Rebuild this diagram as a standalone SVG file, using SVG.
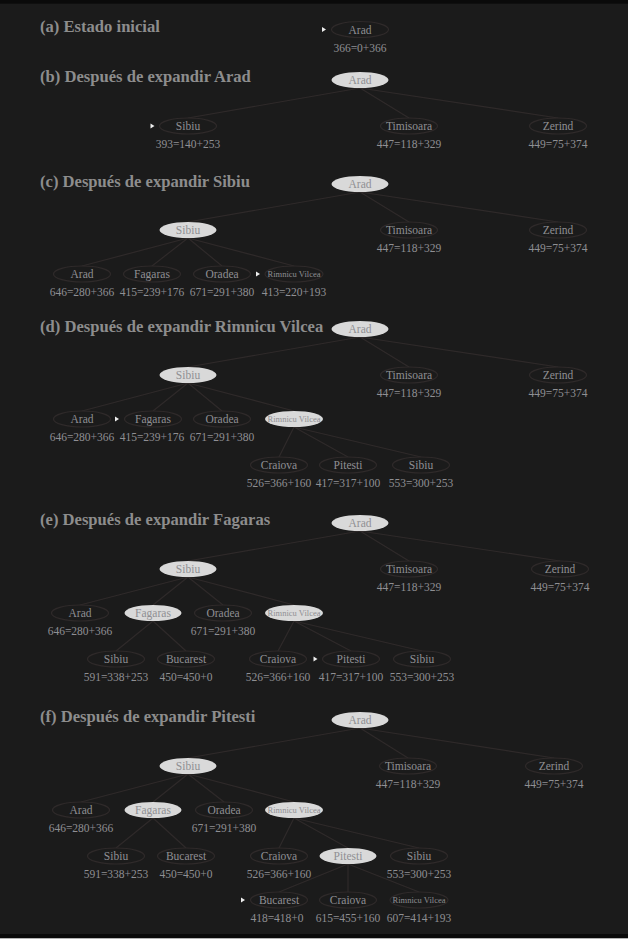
<svg xmlns="http://www.w3.org/2000/svg" width="628" height="939" viewBox="0 0 628 939">
<style>
.t{font-family:"Liberation Serif","Times New Roman",serif;font-weight:bold;font-size:16.6px;fill:#8d8d8d}
.n{font-family:"Liberation Serif","Times New Roman",serif;font-size:11.5px;fill:#8f8f93;text-anchor:middle}
.s{font-family:"Liberation Serif","Times New Roman",serif;font-size:8.5px;fill:#8f8f93;text-anchor:middle}
.o{fill:#1b1b1b;stroke:#2f2a2a;stroke-width:1.2}
.x{fill:#d9d9d9;stroke:none}
.e{stroke:#2f2a2a;stroke-width:1.2;fill:none}
.a{fill:#eeeeee}
</style>
<rect x="0" y="0" width="628" height="939" fill="#1b1b1b"/>
<rect x="0" y="0" width="628" height="3.7" fill="#0a0a0a"/>
<rect x="0" y="934" width="628" height="4" fill="#0a0a0a"/>
<rect x="0" y="938" width="628" height="1" fill="#b4b4b4"/>

<text class="t" x="40" y="32">(a) Estado inicial</text>
<text class="t" x="40" y="82">(b) Después de expandir Arad</text>
<text class="t" x="40" y="187">(c) Después de expandir Sibiu</text>
<text class="t" x="40" y="332">(d) Después de expandir Rimnicu Vilcea</text>
<text class="t" x="40" y="525">(e) Después de expandir Fagaras</text>
<text class="t" x="40" y="722">(f) Después de expandir Pitesti</text>

<!-- Panel a -->
<g id="panel-a" transform="translate(0,29.5)">
  <g id="a-arad"><polygon class="a" points="322,-2.5 326,0 322,2.5"/><ellipse class="o" cx="360" cy="0" rx="28.5" ry="8"/><text class="n" x="360" y="4">Arad</text><text class="n" x="360" y="22">366=0+366</text></g>
</g>

<!-- Panel b -->
<g id="panel-b" transform="translate(0,80)">
  <g id="b-edges">
    <path class="e" d="M360,8L188,38M360,8L409,38M360,8L558,38"/>
  </g>
  <g id="b-arad"><ellipse class="x" cx="360" cy="0" rx="28.5" ry="8"/><text class="n" x="360" y="4">Arad</text></g>
  <g id="b-sibiu"><polygon class="a" points="150.5,43.5 154.5,46 150.5,48.5"/><ellipse class="o" cx="188" cy="46" rx="28.5" ry="8"/><text class="n" x="188" y="50">Sibiu</text><text class="n" x="188" y="67.5">393=140+253</text></g>
  <g id="b-timisoara"><ellipse class="o" cx="409" cy="46" rx="28.5" ry="8"/><text class="n" x="409" y="50">Timisoara</text><text class="n" x="409" y="67.5">447=118+329</text></g>
  <g id="b-zerind"><ellipse class="o" cx="558" cy="46" rx="28.5" ry="8"/><text class="n" x="558" y="50">Zerind</text><text class="n" x="558" y="67.5">449=75+374</text></g>
</g>

<!-- Panel c -->
<g id="panel-c" transform="translate(0,184)">
  <g id="c-edges">
    <path class="e" d="M360,8L188,38M360,8L409,38M360,8L558,38M188,54L82,82M188,54L152,82M188,54L222,82M188,54L294,82"/>
  </g>
  <g id="c-arad"><ellipse class="x" cx="360" cy="0" rx="28.5" ry="8"/><text class="n" x="360" y="4">Arad</text></g>
  <g id="c-sibiu"><ellipse class="x" cx="188" cy="46" rx="28.5" ry="8"/><text class="n" x="188" y="50">Sibiu</text></g>
  <g id="c-timisoara"><ellipse class="o" cx="409" cy="46" rx="28.5" ry="8"/><text class="n" x="409" y="50">Timisoara</text><text class="n" x="409" y="67.5">447=118+329</text></g>
  <g id="c-zerind"><ellipse class="o" cx="558" cy="46" rx="28.5" ry="8"/><text class="n" x="558" y="50">Zerind</text><text class="n" x="558" y="67.5">449=75+374</text></g>
  <g id="c-arad2"><ellipse class="o" cx="82" cy="90" rx="28.5" ry="8"/><text class="n" x="82" y="94">Arad</text><text class="n" x="82" y="111.5">646=280+366</text></g>
  <g id="c-fagaras"><ellipse class="o" cx="152" cy="90" rx="28.5" ry="8"/><text class="n" x="152" y="94">Fagaras</text><text class="n" x="152" y="111.5">415=239+176</text></g>
  <g id="c-oradea"><ellipse class="o" cx="222" cy="90" rx="28.5" ry="8"/><text class="n" x="222" y="94">Oradea</text><text class="n" x="222" y="111.5">671=291+380</text></g>
  <g id="c-rimnicu"><polygon class="a" points="256,87.5 260,90 256,92.5"/><ellipse class="o" cx="294" cy="90" rx="29" ry="8"/><text class="s" x="294" y="93">Rimnicu Vilcea</text><text class="n" x="294" y="111.5">413=220+193</text></g>
</g>

<!-- Panel d -->
<g id="panel-d" transform="translate(0,329)">
  <g id="d-edges">
    <path class="e" d="M360,8L188,38M360,8L409,38M360,8L558,38M188,54L82,82M188,54L153,82M188,54L222,82M188,54L294,82M294,98L279,128M294,98L348,128M294,98L421,128"/>
  </g>
  <g id="d-arad"><ellipse class="x" cx="360" cy="0" rx="28.5" ry="8"/><text class="n" x="360" y="4">Arad</text></g>
  <g id="d-sibiu"><ellipse class="x" cx="188" cy="46" rx="28.5" ry="8"/><text class="n" x="188" y="50">Sibiu</text></g>
  <g id="d-timisoara"><ellipse class="o" cx="409" cy="46" rx="28.5" ry="8"/><text class="n" x="409" y="50">Timisoara</text><text class="n" x="409" y="67.5">447=118+329</text></g>
  <g id="d-zerind"><ellipse class="o" cx="558" cy="46" rx="28.5" ry="8"/><text class="n" x="558" y="50">Zerind</text><text class="n" x="558" y="67.5">449=75+374</text></g>
  <g id="d-arad2"><ellipse class="o" cx="82" cy="90" rx="28.5" ry="8"/><text class="n" x="82" y="94">Arad</text><text class="n" x="82" y="111.5">646=280+366</text></g>
  <g id="d-fagaras"><polygon class="a" points="115,87.5 119,90 115,92.5"/><ellipse class="o" cx="153" cy="90" rx="28.5" ry="8"/><text class="n" x="153" y="94">Fagaras</text><text class="n" x="152" y="111.5">415=239+176</text></g>
  <g id="d-oradea"><ellipse class="o" cx="222" cy="90" rx="28.5" ry="8"/><text class="n" x="222" y="94">Oradea</text><text class="n" x="222" y="111.5">671=291+380</text></g>
  <g id="d-rimnicu"><ellipse class="x" cx="294" cy="90" rx="29" ry="8"/><text class="s" x="294" y="93">Rimnicu Vilcea</text></g>
  <g id="d-craiova"><ellipse class="o" cx="279" cy="136" rx="28.5" ry="8"/><text class="n" x="279" y="140">Craiova</text><text class="n" x="279" y="157.5">526=366+160</text></g>
  <g id="d-pitesti"><ellipse class="o" cx="348" cy="136" rx="28.5" ry="8"/><text class="n" x="348" y="140">Pitesti</text><text class="n" x="348" y="157.5">417=317+100</text></g>
  <g id="d-sibiu3"><ellipse class="o" cx="421" cy="136" rx="28.5" ry="8"/><text class="n" x="421" y="140">Sibiu</text><text class="n" x="421" y="157.5">553=300+253</text></g>
</g>

<!-- Panel e -->
<g id="panel-e" transform="translate(0,523)">
  <g id="e-edges">
    <path class="e" d="M360,8L188,38M360,8L409,38M360,8L560,38M188,54L80,82M188,54L153,82M188,54L223,82M188,54L294,82M153,98L116,128M153,98L186,128M294,98L278,128M294,98L351,128M294,98L422,128"/>
  </g>
  <g id="e-arad"><ellipse class="x" cx="360" cy="0" rx="28.5" ry="8"/><text class="n" x="360" y="4">Arad</text></g>
  <g id="e-sibiu"><ellipse class="x" cx="188" cy="46" rx="28.5" ry="8"/><text class="n" x="188" y="50">Sibiu</text></g>
  <g id="e-timisoara"><ellipse class="o" cx="409" cy="46" rx="28.5" ry="8"/><text class="n" x="409" y="50">Timisoara</text><text class="n" x="409" y="67.5">447=118+329</text></g>
  <g id="e-zerind"><ellipse class="o" cx="560" cy="46" rx="28.5" ry="8"/><text class="n" x="560" y="50">Zerind</text><text class="n" x="560" y="67.5">449=75+374</text></g>
  <g id="e-arad2"><ellipse class="o" cx="80" cy="90" rx="28.5" ry="8"/><text class="n" x="80" y="94">Arad</text><text class="n" x="80" y="111.5">646=280+366</text></g>
  <g id="e-fagaras"><ellipse class="x" cx="153" cy="90" rx="28.5" ry="8"/><text class="n" x="153" y="94">Fagaras</text></g>
  <g id="e-oradea"><ellipse class="o" cx="223" cy="90" rx="28.5" ry="8"/><text class="n" x="223" y="94">Oradea</text><text class="n" x="223" y="111.5">671=291+380</text></g>
  <g id="e-rimnicu"><ellipse class="x" cx="294" cy="90" rx="29" ry="8"/><text class="s" x="294" y="93">Rimnicu Vilcea</text></g>
  <g id="e-sibiu3a"><ellipse class="o" cx="116" cy="136" rx="28.5" ry="8"/><text class="n" x="116" y="140">Sibiu</text><text class="n" x="116" y="157.5">591=338+253</text></g>
  <g id="e-bucarest"><ellipse class="o" cx="186" cy="136" rx="28.5" ry="8"/><text class="n" x="186" y="140">Bucarest</text><text class="n" x="186" y="157.5">450=450+0</text></g>
  <g id="e-craiova"><ellipse class="o" cx="278" cy="136" rx="28.5" ry="8"/><text class="n" x="278" y="140">Craiova</text><text class="n" x="278" y="157.5">526=366+160</text></g>
  <g id="e-pitesti"><polygon class="a" points="313.5,133.5 317.5,136 313.5,138.5"/><ellipse class="o" cx="351" cy="136" rx="28.5" ry="8"/><text class="n" x="351" y="140">Pitesti</text><text class="n" x="351" y="157.5">417=317+100</text></g>
  <g id="e-sibiu3b"><ellipse class="o" cx="422" cy="136" rx="28.5" ry="8"/><text class="n" x="422" y="140">Sibiu</text><text class="n" x="422" y="157.5">553=300+253</text></g>
</g>

<!-- Panel f -->
<g id="panel-f" transform="translate(0,720)">
  <g id="f-edges">
    <path class="e" d="M360,8L188,38M360,8L408,38M360,8L554,38M188,54L81,82M188,54L153,82M188,54L224,82M188,54L294,82M153,98L116,128M153,98L186,128M294,98L279,128M294,98L348,128M294,98L419,128M348,144L279,172M348,144L348,172M348,144L419,172"/>
  </g>
  <g id="f-arad"><ellipse class="x" cx="360" cy="0" rx="28.5" ry="8"/><text class="n" x="360" y="4">Arad</text></g>
  <g id="f-sibiu"><ellipse class="x" cx="188" cy="46" rx="28.5" ry="8"/><text class="n" x="188" y="50">Sibiu</text></g>
  <g id="f-timisoara"><ellipse class="o" cx="408" cy="46" rx="28.5" ry="8"/><text class="n" x="408" y="50">Timisoara</text><text class="n" x="408" y="67.5">447=118+329</text></g>
  <g id="f-zerind"><ellipse class="o" cx="554" cy="46" rx="28.5" ry="8"/><text class="n" x="554" y="50">Zerind</text><text class="n" x="554" y="67.5">449=75+374</text></g>
  <g id="f-arad2"><ellipse class="o" cx="81" cy="90" rx="28.5" ry="8"/><text class="n" x="81" y="94">Arad</text><text class="n" x="81" y="111.5">646=280+366</text></g>
  <g id="f-fagaras"><ellipse class="x" cx="153" cy="90" rx="28.5" ry="8"/><text class="n" x="153" y="94">Fagaras</text></g>
  <g id="f-oradea"><ellipse class="o" cx="224" cy="90" rx="28.5" ry="8"/><text class="n" x="224" y="94">Oradea</text><text class="n" x="224" y="111.5">671=291+380</text></g>
  <g id="f-rimnicu"><ellipse class="x" cx="294" cy="90" rx="29" ry="8"/><text class="s" x="294" y="93">Rimnicu Vilcea</text></g>
  <g id="f-sibiu3a"><ellipse class="o" cx="116" cy="136" rx="28.5" ry="8"/><text class="n" x="116" y="140">Sibiu</text><text class="n" x="116" y="157.5">591=338+253</text></g>
  <g id="f-bucarest"><ellipse class="o" cx="186" cy="136" rx="28.5" ry="8"/><text class="n" x="186" y="140">Bucarest</text><text class="n" x="186" y="157.5">450=450+0</text></g>
  <g id="f-craiova"><ellipse class="o" cx="279" cy="136" rx="28.5" ry="8"/><text class="n" x="279" y="140">Craiova</text><text class="n" x="279" y="157.5">526=366+160</text></g>
  <g id="f-pitesti"><ellipse class="x" cx="348" cy="136" rx="28.5" ry="8"/><text class="n" x="348" y="140">Pitesti</text></g>
  <g id="f-sibiu3b"><ellipse class="o" cx="419" cy="136" rx="28.5" ry="8"/><text class="n" x="419" y="140">Sibiu</text><text class="n" x="419" y="157.5">553=300+253</text></g>
  <g id="f-bucarest4"><polygon class="a" points="241,177.5 245,180 241,182.5"/><ellipse class="o" cx="279" cy="180" rx="28.5" ry="8"/><text class="n" x="279" y="184">Bucarest</text><text class="n" x="277" y="201.5">418=418+0</text></g>
  <g id="f-craiova4"><ellipse class="o" cx="348" cy="180" rx="28.5" ry="8"/><text class="n" x="348" y="184">Craiova</text><text class="n" x="348" y="201.5">615=455+160</text></g>
  <g id="f-rimnicu4"><ellipse class="o" cx="419" cy="180" rx="29" ry="8"/><text class="s" x="419" y="183">Rimnicu Vilcea</text><text class="n" x="419" y="201.5">607=414+193</text></g>
</g>
</svg>
